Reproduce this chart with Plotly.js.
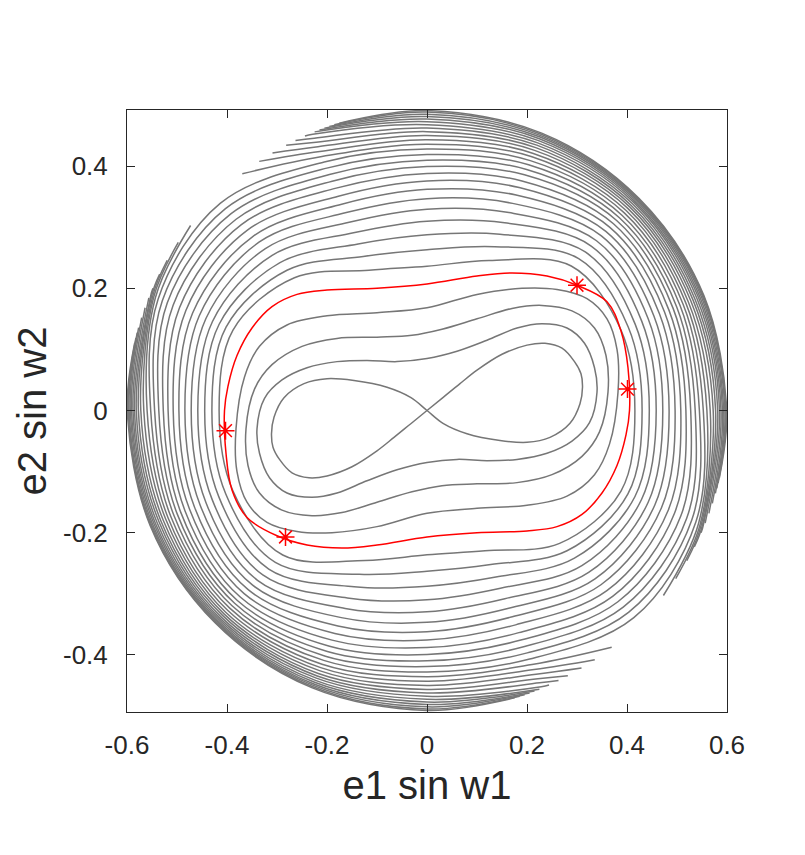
<!DOCTYPE html>
<html>
<head>
<meta charset="utf-8">
<script src="https://cdn.plot.ly/plotly-3.0.1.min.js"></script>
<style>html,body{margin:0;padding:0;background:#fff;}</style>
</head>
<body>
<div id="chart" style="width:805px;height:855px;"></div>
<script>
// Semi-axes of the admissible region; the level curves stop at this edge
const edgeX = 0.6, edgeY = 0.4917;

// Ray directions (deg) in the frame where the admissible edge is a unit circle
const rayDeg = [0, 22.5, 45, 67.5, 90, 112.5, 135, 157.5, 180, 202.5, 225, 247.5, 270, 292.5, 315, 337.5];

// Separatrix: figure-eight through the origin
const sepX = [0, 0.033, 0.066, 0.1, 0.15, 0.2, 0.236, 0.27, 0.295, 0.308, 0.311, 0.306, 0.286, 0.246, 0.2, 0.146, 0.08, 0.032, 0,
  -0.032, -0.08, -0.146, -0.2, -0.246, -0.286, -0.306, -0.311, -0.308, -0.295, -0.27, -0.236, -0.2, -0.15, -0.1, -0.066, -0.033, 0];
const sepY = [0, 0.022, 0.044, 0.066, 0.092, 0.107, 0.11, 0.102, 0.08, 0.06, 0.038, 0.011, -0.021, -0.044, -0.052, -0.049, -0.038, -0.021, 0,
  0.021, 0.038, 0.049, 0.052, 0.044, 0.021, -0.011, -0.038, -0.06, -0.08, -0.102, -0.11, -0.107, -0.092, -0.066, -0.044, -0.022, 0];

// Level curves between the separatrix and the highlighted orbit
const ring1X = [0.34, 0.335, 0.315, 0.28, 0.23, 0.18, 0.12, 0.06, 0, -0.06, -0.12, -0.18, -0.24, -0.29, -0.325, -0.34,
  -0.335, -0.315, -0.28, -0.23, -0.18, -0.12, -0.06, 0, 0.06, 0.12, 0.18, 0.24, 0.29, 0.325, 0.34];
const ring1Y = [0.03, 0.07, 0.11, 0.135, 0.142, 0.135, 0.115, 0.097, 0.085, 0.08, 0.082, 0.08, 0.07, 0.05, 0.02, -0.03,
  -0.07, -0.11, -0.135, -0.142, -0.135, -0.115, -0.097, -0.085, -0.08, -0.082, -0.08, -0.07, -0.05, -0.02, 0.03];
const ring2X = [0.362, 0.358, 0.335, 0.29, 0.23, 0.17, 0.1, 0.03, -0.03, -0.1, -0.18, -0.25, -0.31, -0.345, -0.362,
  -0.358, -0.335, -0.29, -0.23, -0.17, -0.1, -0.03, 0.03, 0.1, 0.18, 0.25, 0.31, 0.345, 0.362];
const ring2Y = [0.03, 0.09, 0.135, 0.163, 0.172, 0.167, 0.15, 0.133, 0.123, 0.12, 0.118, 0.105, 0.075, 0.035, -0.03,
  -0.09, -0.135, -0.163, -0.172, -0.167, -0.15, -0.133, -0.123, -0.12, -0.118, -0.105, -0.075, -0.035, 0.03];
const ring3X = [0.382, 0.38, 0.36, 0.32, 0.26, 0.19, 0.1, 0, -0.1, -0.2, -0.28, -0.335, -0.365, -0.382,
  -0.38, -0.36, -0.32, -0.26, -0.19, -0.1, 0, 0.1, 0.2, 0.28, 0.335, 0.365, 0.382];
const ring3Y = [0.03, 0.1, 0.15, 0.183, 0.198, 0.2, 0.19, 0.168, 0.16, 0.155, 0.14, 0.105, 0.055, -0.03,
  -0.1, -0.15, -0.183, -0.198, -0.2, -0.19, -0.168, -0.16, -0.155, -0.14, -0.105, -0.055, 0.03];

// Highlighted orbit and the four marked states on it
const orbitX = [0.405, 0.402, 0.388, 0.36, 0.3, 0.24, 0.17, 0.1, 0, -0.1, -0.2, -0.26, -0.31, -0.35, -0.38, -0.398, -0.405,
  -0.402, -0.39, -0.36, -0.3, -0.24, -0.17, -0.1, 0, 0.1, 0.2, 0.26, 0.31, 0.35, 0.38, 0.398, 0.405];
const orbitY = [0, 0.07, 0.13, 0.178, 0.205, 0.22, 0.225, 0.22, 0.207, 0.2, 0.197, 0.19, 0.17, 0.135, 0.09, 0.04, 0,
  -0.07, -0.13, -0.175, -0.205, -0.22, -0.225, -0.22, -0.207, -0.2, -0.197, -0.19, -0.17, -0.135, -0.09, -0.04, 0];
const starX = [0.3, 0.401, -0.403, -0.283];
const starY = [0.205, 0.035, -0.033, -0.207];

// Outer level curves: radius of each curve along each ray (null = beyond the edge)
const outerR000 = [0.693, 0.717, 0.741, 0.764, 0.786, 0.807, 0.827, 0.846, 0.863, 0.879, 0.894, 0.908, 0.921, 0.933, 0.944, 0.954, 0.962, 0.969, 0.975, 0.98, 0.985, 0.989, 0.993, 0.996, 0.999];
const outerR022 = [0.7, 0.726, 0.751, 0.775, 0.798, 0.819, 0.839, 0.857, 0.873, 0.888, 0.901, 0.913, 0.924, 0.934, 0.943, 0.952, 0.96, 0.967, 0.974, 0.98, 0.985, 0.99, 0.994, 0.997, 0.999];
const outerR045 = [0.68, 0.715, 0.746, 0.774, 0.799, 0.822, 0.843, 0.862, 0.879, 0.894, 0.907, 0.919, 0.93, 0.94, 0.949, 0.957, 0.964, 0.971, 0.977, 0.982, 0.987, 0.991, 0.994, 0.997, 0.999];
const outerR067 = [0.54, 0.59, 0.635, 0.676, 0.713, 0.746, 0.776, 0.803, 0.827, 0.849, 0.868, 0.885, 0.9, 0.914, 0.926, 0.937, 0.947, 0.956, 0.964, 0.972, 0.979, 0.985, 0.99, 0.995, 0.999];
const outerR090 = [0.48, 0.535, 0.585, 0.63, 0.67, 0.705, 0.736, 0.764, 0.789, 0.812, 0.833, 0.852, 0.87, 0.886, 0.901, 0.915, 0.928, 0.94, 0.951, 0.961, 0.97, 0.978, 0.986, 0.993, 0.998];
const outerR112 = [0.505, 0.555, 0.6, 0.64, 0.678, 0.712, 0.743, 0.772, 0.8, 0.826, 0.85, 0.873, 0.895, 0.915, 0.933, 0.95, 0.966, 0.981, 0.995, null, null, null, null, null, null];
const outerR135 = [0.625, 0.66, 0.695, 0.73, 0.762, 0.792, 0.82, 0.848, 0.875, 0.9, 0.925, 0.95, 0.975, null, null, null, null, null, null, null, null, null, null, null, null];
const outerR157 = [0.7, 0.725, 0.75, 0.774, 0.798, 0.822, 0.846, 0.87, 0.893, 0.916, 0.937, 0.955, 0.97, 0.98, 0.986, 0.99, 0.994, 0.997, null, null, null, null, null, null, null];
const outerR180 = [0.693, 0.717, 0.741, 0.764, 0.786, 0.807, 0.827, 0.846, 0.863, 0.879, 0.894, 0.908, 0.921, 0.933, 0.944, 0.954, 0.962, 0.969, 0.975, 0.98, 0.985, 0.989, 0.993, 0.996, 0.999];
const outerR202 = [0.7, 0.726, 0.751, 0.775, 0.798, 0.819, 0.839, 0.857, 0.873, 0.888, 0.901, 0.913, 0.924, 0.934, 0.943, 0.952, 0.96, 0.967, 0.974, 0.98, 0.985, 0.99, 0.994, 0.997, 0.999];
const outerR225 = [0.68, 0.715, 0.746, 0.774, 0.799, 0.822, 0.843, 0.862, 0.879, 0.894, 0.907, 0.919, 0.93, 0.94, 0.949, 0.957, 0.964, 0.971, 0.977, 0.982, 0.987, 0.991, 0.994, 0.997, 0.999];
const outerR247 = [0.54, 0.59, 0.635, 0.676, 0.713, 0.746, 0.776, 0.803, 0.827, 0.849, 0.868, 0.885, 0.9, 0.914, 0.926, 0.937, 0.947, 0.956, 0.964, 0.972, 0.979, 0.985, 0.99, 0.995, 0.999];
const outerR270 = [0.48, 0.535, 0.585, 0.63, 0.67, 0.705, 0.736, 0.764, 0.789, 0.812, 0.833, 0.852, 0.87, 0.886, 0.901, 0.915, 0.928, 0.94, 0.951, 0.961, 0.97, 0.978, 0.986, 0.993, 0.998];
const outerR292 = [0.505, 0.555, 0.6, 0.64, 0.678, 0.712, 0.743, 0.772, 0.8, 0.826, 0.85, 0.873, 0.895, 0.915, 0.933, 0.95, 0.966, 0.981, 0.995, null, null, null, null, null, null];
const outerR315 = [0.625, 0.66, 0.695, 0.73, 0.762, 0.792, 0.82, 0.848, 0.875, 0.9, 0.925, 0.95, 0.975, null, null, null, null, null, null, null, null, null, null, null, null];
const outerR337 = [0.7, 0.725, 0.75, 0.774, 0.798, 0.822, 0.846, 0.87, 0.893, 0.916, 0.937, 0.955, 0.97, 0.98, 0.986, 0.99, 0.994, 0.997, null, null, null, null, null, null, null];

// Where each outer curve leaves and re-enters the region (deg), upper-left and lower-right
const exitUL  = [null, null, null, null, null, null, null, null, null, null, null, null, null, 128, 124, 121, 118, 116, 114, 112, 111, 110, 109, 108, 107];
const entryUL = [null, null, null, null, null, null, null, null, null, null, null, null, null, 142, 146, 150, 153, 156, 158, 160, 162, 164, 165, 166, 167];
const exitLR  = [null, null, null, null, null, null, null, null, null, null, null, null, null, 308, 304, 301, 298, 296, 294, 292, 291, 290, 289, 288, 287];
const entryLR = [null, null, null, null, null, null, null, null, null, null, null, null, null, 322, 326, 330, 333, 336, 338, 340, 342, 344, 345, 346, 347];

// Axis ticks
const xTickVals = [-0.6, -0.4, -0.2, 0, 0.2, 0.4, 0.6];
const xTickText = ['-0.6', '-0.4', '-0.2', '0', '0.2', '0.4', '0.6'];
const yTickVals = [-0.4, -0.2, 0, 0.2, 0.4];
const yTickText = ['-0.4', '-0.2', '0', '0.2', '0.4'];

const outerRays = [outerR000, outerR022, outerR045, outerR067, outerR090, outerR112, outerR135, outerR157,
                   outerR180, outerR202, outerR225, outerR247, outerR270, outerR292, outerR315, outerR337];

// Turn per-ray radii (plus edge crossings) into x/y polylines, gaps as nulls
function ringXY(radii, gaps) {
  let pts = [];
  rayDeg.forEach((a, k) => {
    const inGap = gaps.some(g => a > g[0] && a < g[1]);
    if (radii[k] != null && !inGap) pts.push({a: a, r: radii[k]});
  });
  gaps.forEach(g => {
    pts.push({a: g[0], r: 1});
    pts.push({a: (g[0] + g[1]) / 2, r: null});
    pts.push({a: g[1], r: 1});
  });
  pts.sort((p, q) => p.a - q.a);
  if (gaps.length) {
    // start right after the first gap so every arc is drawn in one piece
    const start = pts.findIndex(p => p.a === gaps[0][1]);
    pts = pts.slice(start).concat(pts.slice(0, start));
  } else {
    pts.push(pts[0]);
  }
  const x = [], y = [];
  pts.forEach(p => {
    if (p.r == null) { x.push(null); y.push(null); return; }
    const t = p.a * Math.PI / 180;
    x.push(edgeX * p.r * Math.cos(t));
    y.push(edgeY * p.r * Math.sin(t));
  });
  return {x, y};
}

const grayX = [], grayY = [];
function addGray(x, y) {
  grayX.push(...x, null);
  grayY.push(...y, null);
}
addGray(ring1X, ring1Y);
addGray(ring2X, ring2Y);
addGray(ring3X, ring3Y);
for (let j = 0; j < outerR000.length; j++) {
  const radii = outerRays.map(ray => ray[j]);
  const gaps = [];
  if (exitUL[j] != null) gaps.push([exitUL[j], entryUL[j]]);
  if (exitLR[j] != null) gaps.push([exitLR[j], entryLR[j]]);
  const xy = ringXY(radii, gaps);
  addGray(xy.x, xy.y);
}

const grayLine = {color: '#767676', width: 1.5, shape: 'spline', smoothing: 1};
const font = 'Liberation Sans, Arial, Helvetica, sans-serif';

const traces = [
  {type: 'scatter', mode: 'lines', x: grayX, y: grayY, line: grayLine, connectgaps: false, hoverinfo: 'skip'},
  {type: 'scatter', mode: 'lines', x: sepX, y: sepY, line: grayLine, hoverinfo: 'skip'},
  {type: 'scatter', mode: 'lines', x: orbitX, y: orbitY,
   line: {color: '#ff0000', width: 1.5, shape: 'spline', smoothing: 1}, hoverinfo: 'skip'},
  {type: 'scatter', mode: 'markers', x: starX, y: starY,
   marker: {symbol: 'asterisk-open', size: 15, color: '#ff0000', line: {color: '#ff0000', width: 1.5}}}
];

const axisCommon = {
  showgrid: false, zeroline: false, showline: true, mirror: 'ticks',
  linecolor: '#262626', linewidth: 1, ticks: 'inside', ticklen: 8, tickwidth: 1, tickcolor: '#262626',
  tickfont: {family: font, size: 26, color: '#262626'}
};

const layout = {
  width: 805, height: 855,
  margin: {l: 127, r: 78, t: 110, b: 143},
  paper_bgcolor: '#ffffff', plot_bgcolor: '#ffffff',
  showlegend: false,
  xaxis: Object.assign({}, axisCommon, {
    range: [-0.6, 0.6], tickvals: xTickVals, ticktext: xTickText, ticklabelstandoff: 10,
    title: {text: 'e1 sin w1', font: {family: font, size: 40, color: '#262626'}, standoff: 11}
  }),
  yaxis: Object.assign({}, axisCommon, {
    range: [-0.4933, 0.4917], tickvals: yTickVals, ticktext: yTickText, ticklabelstandoff: 13,
    title: {text: 'e2 sin w2', font: {family: font, size: 40, color: '#262626'}, standoff: 3}
  })
};

Plotly.newPlot('chart', traces, layout, {displayModeBar: false, staticPlot: true});
</script>
</body>
</html>
